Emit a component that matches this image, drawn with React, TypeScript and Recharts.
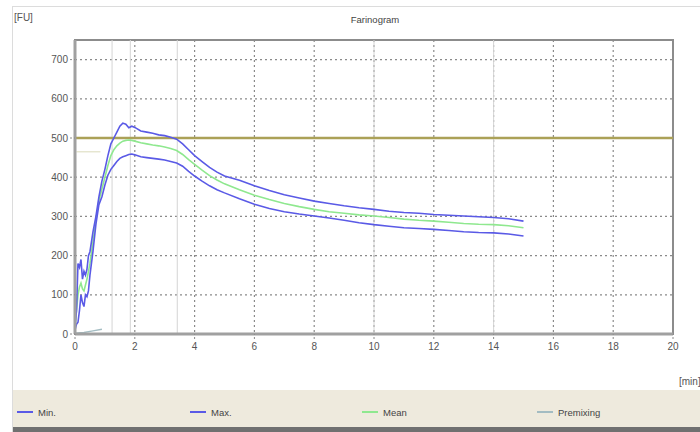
import React from "react";
import {
  LineChart,
  Line,
  XAxis,
  YAxis,
  CartesianGrid,
  ReferenceLine,
  ReferenceArea,
} from "recharts";

const timeMin = [
  0, 0.05, 0.1, 0.15, 0.2, 0.25, 0.3, 0.35, 0.4, 0.45, 0.5, 0.6, 0.7, 0.8, 0.9,
  1.0, 1.1, 1.2, 1.3, 1.4, 1.5, 1.6, 1.7, 1.8, 1.9, 2.0, 2.2, 2.4, 2.6, 2.8,
  3.0, 3.2, 3.4, 3.6, 3.8, 4.0, 4.25, 4.5, 4.75, 5.0, 5.5, 6.0, 6.5, 7.0, 7.5,
  8.0, 8.5, 9.0, 9.5, 10, 10.5, 11, 11.5, 12, 12.5, 13, 13.5, 14, 14.5, 15,
];

const maxValues = [
  20, 60, 180, 170, 190, 140, 160, 150, 165, 200, 210, 260, 300, 350, 390,
  420, 455, 485, 500, 515, 530, 538, 535, 526, 530, 527, 518, 515, 512, 508,
  506, 502, 497, 485, 470, 455, 440, 425, 413, 403, 392, 378, 366, 355, 347,
  339, 333, 327, 322, 318, 313, 310, 308, 305, 303, 301, 299, 297, 294, 288,
];

const minValues = [
  10, 25, 30, 60, 100, 80, 70, 100, 95, 110, 150, 210, 280, 330, 350,
  380, 405, 420, 430, 440, 448, 452, 455, 458, 459, 457, 452, 450, 448, 446,
  444, 440, 436, 428, 415, 403, 390, 378, 368, 360, 345, 331, 320, 312, 306,
  301, 296, 290, 284, 279, 275, 271, 269, 267, 264, 261, 259, 258, 255, 250,
];

const meanValues = [
  15, 60, 100, 120, 130, 115, 110, 125, 140, 160, 180, 235, 290, 340, 370,
  400, 430, 455, 470, 480, 487, 492, 494, 495, 494, 492, 488, 485, 482, 480,
  477, 473, 468, 458, 445, 433, 418, 404, 393, 383, 368, 354, 343, 333, 325,
  318, 312, 308, 304, 301, 297, 293, 290, 288, 285, 282, 280, 279, 276, 271,
];

const premixTime = [0, 0.3, 0.6, 0.9];
const premixValues = [2, 4, 8, 12];

const xTicks = [0, 2, 4, 6, 8, 10, 12, 14, 16, 18, 20];
const yTicks = [0, 100, 200, 300, 400, 500, 600, 700];
const markerTimes = [1.24, 1.85, 3.42, 10.0, 14.0];

const legendItems = [
  { label: "Min.", color: "#5a5ae6", x: 17 },
  { label: "Max.", color: "#5a5ae6", x: 190 },
  { label: "Mean", color: "#8fe88f", x: 362 },
  { label: "Premixing", color: "#a3bcc2", x: 537 },
];

const data = timeMin.map((t, i) => ({
  t,
  max: maxValues[i],
  min: minValues[i],
  mean: meanValues[i],
}));

const premixData = premixTime.map((t, i) => ({ t, premix: premixValues[i] }));

const font = "'Liberation Sans', Arial, sans-serif";

export default function App() {
  return (
    <div
      style={{
        position: "absolute",
        left: 0,
        top: 0,
        width: 700,
        height: 432,
        background: "#fff",
        fontFamily: font,
        overflow: "hidden",
      }}
    >
      <div
        style={{
          position: "absolute",
          left: 12,
          top: 6,
          width: 690,
          height: 430,
          borderLeft: "1px solid #dcdcdc",
          borderTop: "1px solid #dcdcdc",
        }}
      />
      <div
        style={{
          position: "absolute",
          left: 13,
          top: 390,
          width: 690,
          height: 37,
          background: "#eeeadd",
        }}
      />
      <div
        style={{
          position: "absolute",
          left: 13,
          top: 427,
          width: 690,
          height: 5,
          background: "#707070",
        }}
      />
      <div style={{ position: "absolute", left: 0, top: 0 }}>
        <LineChart
          width={700}
          height={432}
          data={data}
          margin={{ top: 40, right: 27, bottom: 68, left: 35 }}
        >
          <CartesianGrid
            stroke="#8a8a8a"
            strokeDasharray="2 3"
            strokeWidth={1.2}
            horizontalValues={yTicks}
            verticalValues={xTicks}
          />
          {markerTimes.map((m) => (
            <ReferenceLine
              key={m}
              x={m}
              stroke="#d4d4d4"
              strokeWidth={1}
              ifOverflow="visible"
            />
          ))}
          <ReferenceLine
            segment={[
              { x: 0.05, y: 465 },
              { x: 0.85, y: 465 },
            ]}
            stroke="#e6e6d0"
            strokeWidth={1.5}
          />
          <ReferenceArea
            x1={0}
            x2={20}
            y1={0}
            y2={750}
            fill="none"
            stroke="#8c8c8c"
            strokeWidth={2}
          />
          <XAxis
            type="number"
            dataKey="t"
            domain={[0, 20]}
            ticks={xTicks}
            allowDataOverflow
            axisLine={{ stroke: "#a0a0a0", strokeWidth: 3 }}
            tickLine={{ stroke: "#8a8a8a", strokeDasharray: "2 2" }}
            tickSize={5}
            tickMargin={4}
            tick={{ fill: "#555", fontSize: 10, fontFamily: font }}
            height={30}
          />
          <YAxis
            type="number"
            domain={[0, 750]}
            ticks={yTicks}
            allowDataOverflow
            axisLine={{ stroke: "#a0a0a0", strokeWidth: 3 }}
            tickLine={{ stroke: "#8a8a8a", strokeDasharray: "2 2" }}
            tickSize={5}
            tickMargin={2}
            tick={{ fill: "#555", fontSize: 10, fontFamily: font }}
            width={40}
          />
          <ReferenceLine y={500} stroke="#aba157" strokeWidth={2.5} />
          <Line
            data={premixData}
            dataKey="premix"
            stroke="#a3bcc2"
            strokeWidth={1.5}
            dot={false}
            isAnimationActive={false}
          />
          <Line
            dataKey="mean"
            stroke="#8fe88f"
            strokeWidth={1.6}
            dot={false}
            isAnimationActive={false}
          />
          <Line
            dataKey="max"
            stroke="#5a5ae6"
            strokeWidth={1.6}
            dot={false}
            isAnimationActive={false}
          />
          <Line
            dataKey="min"
            stroke="#5a5ae6"
            strokeWidth={1.6}
            dot={false}
            isAnimationActive={false}
          />
        </LineChart>
      </div>
      <div
        style={{
          position: "absolute",
          left: 14,
          top: 12,
          fontSize: 10,
          color: "#555",
        }}
      >
        [FU]
      </div>
      <div
        style={{
          position: "absolute",
          left: 340,
          top: 14,
          width: 70,
          textAlign: "center",
          fontSize: 9.5,
          color: "#444",
        }}
      >
        Farinogram
      </div>
      <div
        style={{
          position: "absolute",
          left: 679,
          top: 376,
          fontSize: 10,
          color: "#555",
          whiteSpace: "nowrap",
        }}
      >
        [min]
      </div>
      {legendItems.map((it) => (
        <div
          key={it.label}
          style={{
            position: "absolute",
            left: it.x,
            top: 405,
            height: 14,
            display: "flex",
            alignItems: "center",
            fontSize: 9.5,
            color: "#444",
          }}
        >
          <div
            style={{
              width: 16,
              height: 2,
              background: it.color,
              marginRight: 5,
            }}
          />
          <span>{it.label}</span>
        </div>
      ))}
    </div>
  );
}
